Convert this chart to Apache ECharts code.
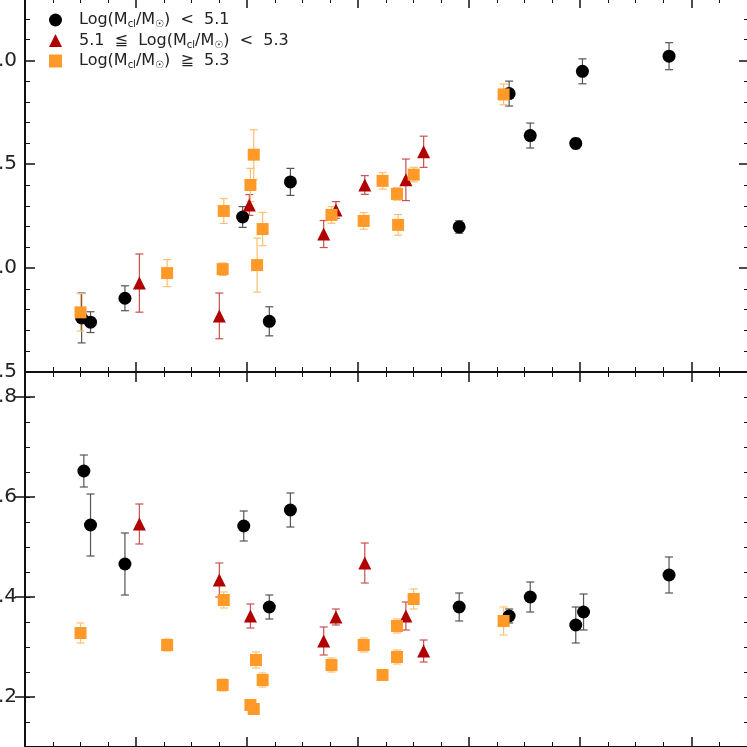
<!DOCTYPE html>
<html><head><meta charset="utf-8">
<script src="https://cdn.jsdelivr.net/npm/echarts@6/dist/echarts.min.js"></script>
<style>html,body{margin:0;padding:0;background:#fff}#c{width:747px;height:747px}</style>
</head><body><div id="c"></div>
<script>
// [x, y, err]
const topBlack = [[0.51,-0.24,0.12],[0.59,-0.26,0.05],[0.90,-0.145,0.06],[1.96,0.246,0.05],[2.20,-0.256,0.07],[2.39,0.415,0.065],[3.91,0.198,0.03],[4.36,0.84,0.06],[4.55,0.638,0.06],[4.96,0.60,0.025],[5.02,0.947,0.06],[5.80,1.02,0.065]];
const topRed = [[1.03,-0.072,0.14],[1.75,-0.23,0.11],[2.02,0.304,0.05],[2.69,0.164,0.065],[2.80,0.28,0.04],[3.06,0.40,0.045],[3.43,0.425,0.1],[3.59,0.56,0.075]];
const topOrange = [[0.50,-0.213,0.09],[1.28,-0.024,0.065],[1.79,0.275,0.06],[1.78,-0.005,0.03],[2.03,0.40,0.08],[2.06,0.546,0.12],[2.09,0.0145,0.13],[2.14,0.188,0.08],[2.76,0.256,0.04],[3.05,0.227,0.04],[3.22,0.42,0.04],[3.35,0.357,0.03],[3.36,0.208,0.05],[3.50,0.45,0.035],[4.31,0.836,0.05]];
const botBlack = [[0.53,0.652,0.032],[0.59,0.544,0.062],[0.90,0.466,0.062],[1.97,0.542,0.03],[2.20,0.38,0.024],[2.39,0.574,0.034],[3.91,0.38,0.028],[4.36,0.362,0.014],[4.55,0.40,0.03],[4.96,0.344,0.036],[5.03,0.37,0.036],[5.80,0.444,0.036]];
const botRed = [[1.03,0.546,0.04],[1.75,0.434,0.034],[2.03,0.362,0.024],[2.69,0.312,0.028],[2.80,0.36,0.016],[3.06,0.468,0.04],[3.43,0.362,0.028],[3.59,0.292,0.022]];
const botOrange = [[0.50,0.328,0.02],[1.28,0.304,0.012],[1.79,0.394,0.016],[1.78,0.224,0.012],[2.03,0.184,0.008],[2.06,0.176,0.006],[2.08,0.274,0.016],[2.14,0.234,0.014],[2.76,0.264,0.014],[3.05,0.304,0.014],[3.22,0.244,0.006],[3.35,0.28,0.014],[3.35,0.342,0.014],[3.50,0.396,0.02],[4.31,0.352,0.028]];
const names = ['Log(M_cl/M_sun) < 5.1','5.1 ≦ Log(M_cl/M_sun) < 5.3','Log(M_cl/M_sun) ≧ 5.3'];
const legendRich = {
  'Log(M_cl/M_sun) < 5.1':'{t|Log(M}{s|cl}{t|/M}{s|☉}{t|)  <  5.1}',
  '5.1 ≦ Log(M_cl/M_sun) < 5.3':'{t|5.1  ≦  Log(M}{s|cl}{t|/M}{s|☉}{t|)  <  5.3}',
  'Log(M_cl/M_sun) ≧ 5.3':'{t|Log(M}{s|cl}{t|/M}{s|☉}{t|)  ≧  5.3}'
};
const topTicks = [-0.5,0,0.5,1.0];
const botTicks = [0.2,0.4,0.6,0.8];

const font = 'DejaVu Sans';
function errSeries(data, color, xi, yi){
  return {type:'custom', xAxisIndex:xi, yAxisIndex:yi, silent:true, z:1,
    data: data,
    renderItem:function(p, api){
      const x=api.value(0), y=api.value(1), e=api.value(2);
      const a=api.coord([x,y+e]), b=api.coord([x,y-e]);
      const st={stroke:color,lineWidth:1.2};
      return {type:'group',children:[
        {type:'line',shape:{x1:a[0],y1:a[1],x2:b[0],y2:b[1]},style:st},
        {type:'line',shape:{x1:a[0]-4,y1:a[1],x2:a[0]+4,y2:a[1]},style:st},
        {type:'line',shape:{x1:b[0]-4,y1:b[1],x2:b[0]+4,y2:b[1]},style:st}]};
    }};
}
function sc(name, data, sym, size, color, xi, yi){
  return {type:'scatter', name:name, xAxisIndex:xi, yAxisIndex:yi, symbol:sym, symbolSize:size, z:3,
    itemStyle:{color:color, opacity:1}, data:data.map(d=>[d[0],d[1]])};
}
function xAx(grid,pos){return {type:'value',gridIndex:grid,position:pos,min:0,max:6.52,interval:1,
  axisLine:{show:true,onZero:false,lineStyle:{color:'#111',width:2}},
  axisTick:{show:true,inside:true,length:10,lineStyle:{color:'#111',width:1.5}},
  minorTick:{show:true,splitNumber:4,length:5,lineStyle:{color:'#111',width:1}},
  axisLabel:{show:false},splitLine:{show:false}};}
const C = {black:'#000',red:'#b00000',orange:'#ff9a28'};
const line = {show:true,onZero:false,lineStyle:{color:'#111',width:2}};
const opt = {
  animation:false, backgroundColor:'#fff',
  grid:[{left:25,right:-2,top:-2,height:374,outerBoundsMode:'none',containLabel:false},
        {left:25,right:-2,top:372,height:375,outerBoundsMode:'none',containLabel:false}],
  xAxis:[xAx(0,'bottom'),xAx(0,'top'),xAx(1,'bottom'),xAx(1,'top')],
  yAxis:[
    {type:'value',gridIndex:0,position:'left',min:-0.5,max:1.3,interval:0.5,axisLine:line,
     axisTick:{show:true,inside:true,length:10,lineStyle:{color:'#111',width:1.5}},
     minorTick:{show:true,splitNumber:5,length:5,lineStyle:{color:'#111',width:1}},
     axisLabel:{show:true,margin:8,fontFamily:font,fontSize:20,color:'#222',
       formatter:v=>topTicks.some(t=>Math.abs(t-v)<1e-6)?v.toFixed(1):''},
     splitLine:{show:false}},
    {type:'value',gridIndex:0,position:'right',min:-0.5,max:1.3,interval:0.5,axisLine:line,
     axisTick:{show:true,inside:true,length:10,lineStyle:{color:'#111',width:1.5}},
     minorTick:{show:true,splitNumber:5,length:5,lineStyle:{color:'#111',width:1}},
     axisLabel:{show:false},splitLine:{show:false}},
    {type:'value',gridIndex:1,position:'left',min:0.1,max:0.85,interval:0.05,axisLine:line,
     axisTick:{show:true,inside:true,length:5,lineStyle:{color:'#111',width:1}},
     axisLabel:{show:true,margin:8,fontFamily:font,fontSize:20,color:'#222',
       formatter:v=>botTicks.some(t=>Math.abs(t-v)<1e-6)?v.toFixed(1):''},
     splitLine:{show:false}},
    {type:'value',gridIndex:1,position:'right',min:0.1,max:0.85,interval:0.05,axisLine:line,
     axisTick:{show:true,inside:true,length:5,lineStyle:{color:'#111',width:1}},
     axisLabel:{show:false},splitLine:{show:false}},
    {type:'value',gridIndex:1,position:'left',min:0.1,max:0.85,
     axisLine:{show:false},axisLabel:{show:false},splitLine:{show:false},
     axisTick:{show:true,inside:true,length:10,customValues:botTicks,lineStyle:{color:'#111',width:1.5}}},
    {type:'value',gridIndex:1,position:'right',min:0.1,max:0.85,
     axisLine:{show:false},axisLabel:{show:false},splitLine:{show:false},
     axisTick:{show:true,inside:true,length:10,customValues:botTicks,lineStyle:{color:'#111',width:1.5}}}
  ],
  legend:{data:[{name:names[0],icon:'circle'},{name:names[1],icon:'triangle'},{name:names[2],icon:'rect'}],
    orient:'vertical',left:44,top:7,itemGap:3,itemWidth:13,itemHeight:13,selectedMode:false,
    formatter:n=>legendRich[n],
    textStyle:{padding:[0,0,0,12],rich:{t:{fontFamily:font,fontSize:16,color:'#222',lineHeight:19},
      s:{fontFamily:font,fontSize:10,color:'#222',verticalAlign:'bottom',lineHeight:14}}}},
  series:[
    errSeries(topBlack,'#555',0,0),errSeries(topRed,'#c85050',0,0),errSeries(topOrange,'#ffbf70',0,0),
    errSeries(botBlack,'#555',2,2),errSeries(botRed,'#c85050',2,2),errSeries(botOrange,'#ffbf70',2,2),
    sc(names[0],topBlack,'circle',13,C.black,0,0),sc(names[1],topRed,'triangle',13,C.red,0,0),sc(names[2],topOrange,'rect',12,C.orange,0,0),
    sc(names[0],botBlack,'circle',13,C.black,2,2),sc(names[1],botRed,'triangle',13,C.red,2,2),sc(names[2],botOrange,'rect',12,C.orange,2,2)
  ]
};
const chart = echarts.init(document.getElementById('c'));
chart.setOption(opt);
</script></body></html>
